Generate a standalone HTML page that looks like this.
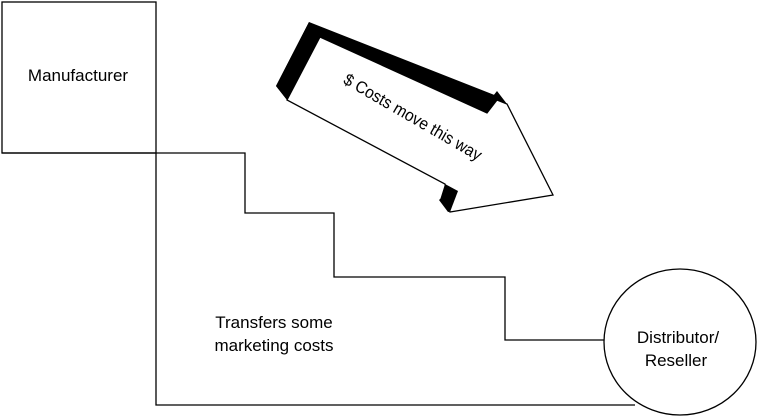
<!DOCTYPE html>
<html><head><style>body{margin:0;background:#fff}svg{display:block}</style></head><body>
<svg width="757" height="417" viewBox="0 0 757 417" xmlns="http://www.w3.org/2000/svg" font-family="Liberation Sans, sans-serif">
<g fill="none" stroke="#000" stroke-width="1.3">
<rect x="2" y="2" width="154" height="151"/>
<polyline points="2,153 245,153 245,213 334,213 334,277 505,277 505,340 604,340"/>
<polyline points="156,153 156,405 635,405"/>
<ellipse cx="680" cy="342" rx="76" ry="73"/>
</g>
<polygon points="309,22 497,96 507,104 553,195 448,212 439,200 455,185 287,100 276,86" fill="#000"/>
<polygon points="320,37 487,113 497,100 507,104 553,195 450,212 445,184 287,100" fill="#fff" stroke="#000" stroke-width="1.3"/>
<polygon points="309,22 320,37 287,100 276,86" fill="#000"/>
<polygon points="497,91 507,104 497,100 487,113 485,106" fill="#000"/>
<polygon points="445,184 458,191 450,212 440,200" fill="#000"/>
<text x="0" y="0" font-size="17" text-anchor="middle" transform="translate(410,122) rotate(30) scale(0.92,1)">$ Costs move this way</text>
<text x="78" y="81" font-size="17" text-anchor="middle" transform="scale(1,1)">Manufacturer</text>
<text x="274" y="328" font-size="17" text-anchor="middle">Transfers some</text>
<text x="274" y="351" font-size="17" text-anchor="middle">marketing costs</text>
<text x="678" y="343" font-size="17" text-anchor="middle">Distributor/</text>
<text x="676" y="366" font-size="17" text-anchor="middle">Reseller</text>
</svg>
</body></html>
